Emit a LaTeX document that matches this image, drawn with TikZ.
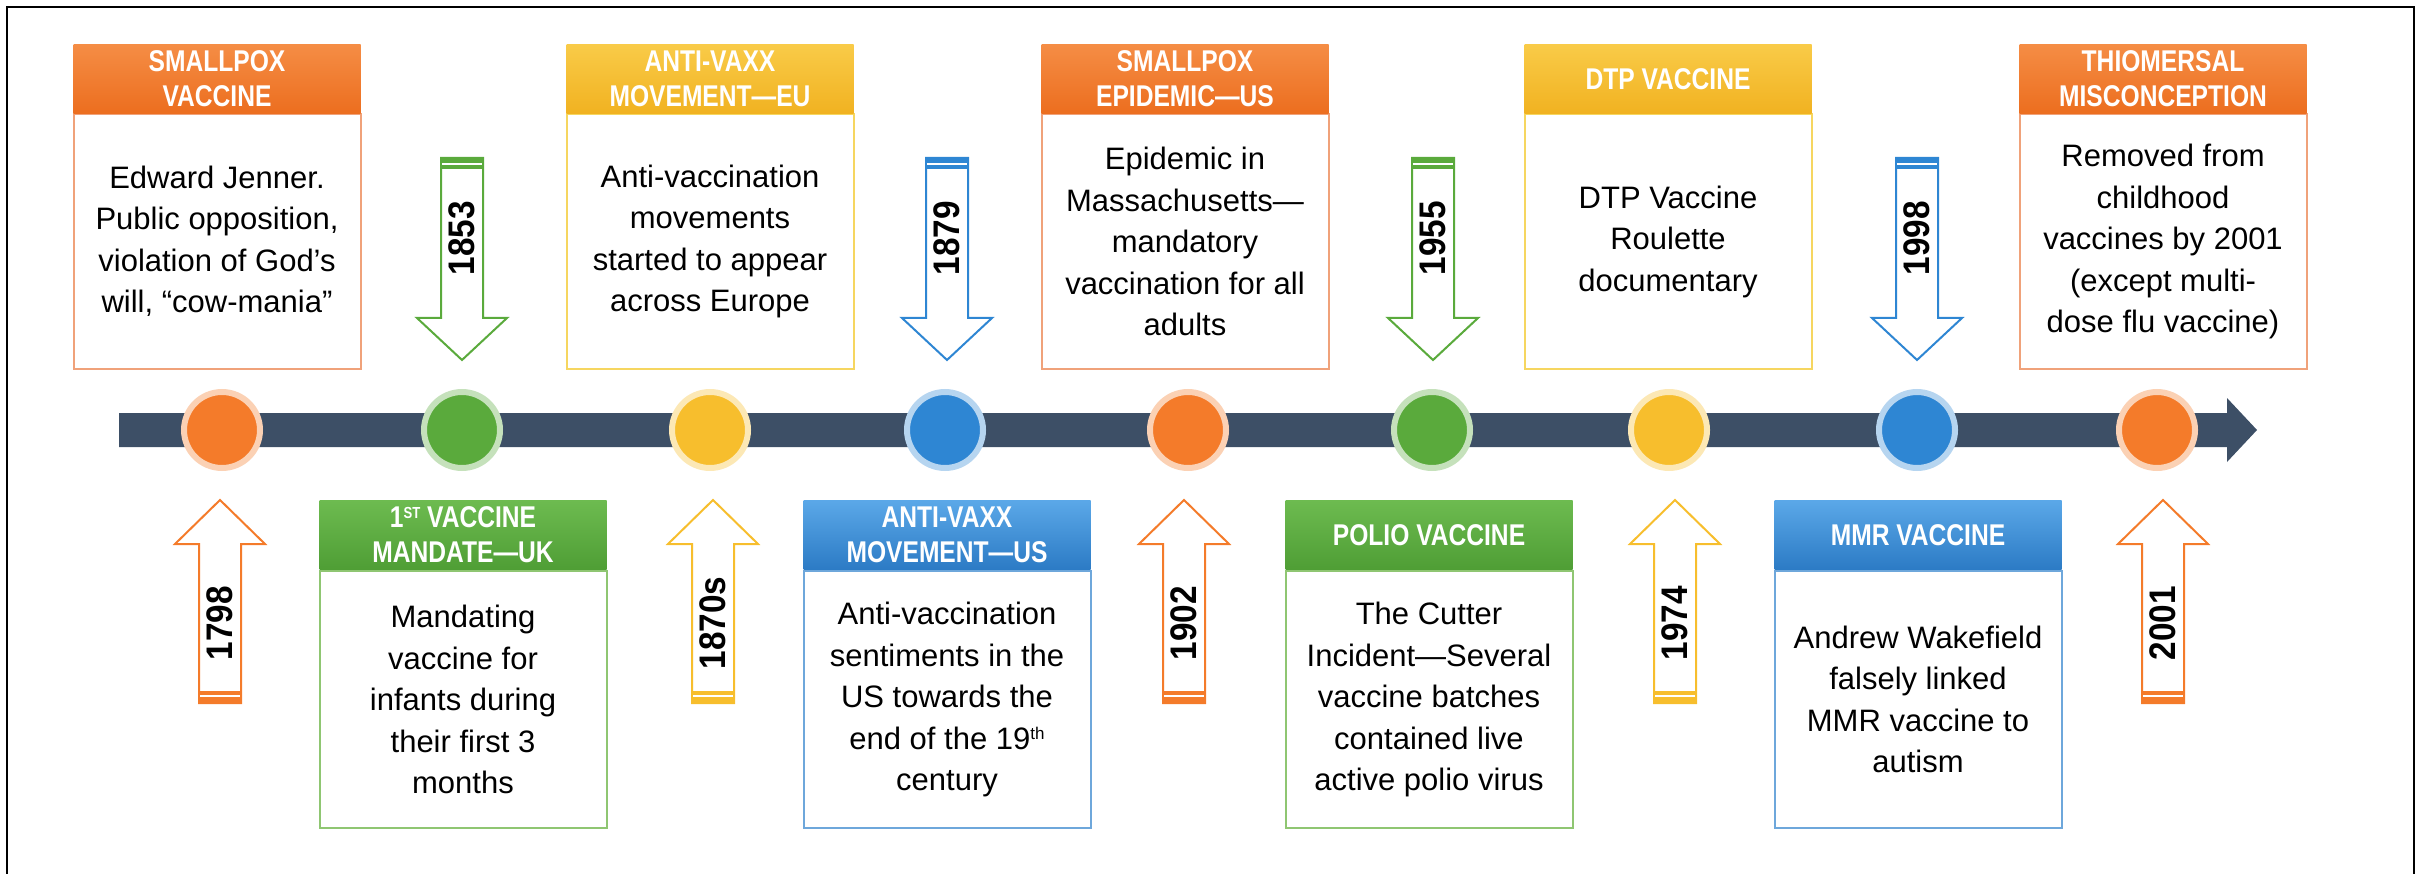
\documentclass[tikz,border=0pt]{standalone}
\usepackage{fontspec}
\setmainfont{Liberation Sans}
\newfontfamily\bodyf{Liberation Sans}
\newfontfamily\hdrf[FakeStretch=0.82]{Liberation Sans}
\newfontfamily\yrf[FakeStretch=0.9]{Liberation Sans}
\definecolor{barc}{HTML}{3D4F66}
\definecolor{oraC}{HTML}{F47B2A}
\definecolor{oraT}{HTML}{F58D45}
\definecolor{oraB}{HTML}{EC6E1F}
\definecolor{oraL}{HTML}{F0A27A}
\definecolor{grnC}{HTML}{5AAA3C}
\definecolor{grnT}{HTML}{6DBB50}
\definecolor{grnB}{HTML}{4F9E35}
\definecolor{grnL}{HTML}{8FC672}
\definecolor{yelC}{HTML}{F7BE2D}
\definecolor{yelT}{HTML}{F9CB48}
\definecolor{yelB}{HTML}{F1B221}
\definecolor{yelL}{HTML}{F6D660}
\definecolor{bluC}{HTML}{2E86D3}
\definecolor{bluT}{HTML}{5BA8E8}
\definecolor{bluB}{HTML}{2C7BC5}
\definecolor{bluL}{HTML}{6EA7DB}
\newcommand\DnArr[4]{%
  \draw[arr, draw=#3] (#2-21,158) -- (#2+21,158) -- (#2+21,318) -- (#2+45,318) -- (#2,360) -- (#2-45,318) -- (#2-21,318) -- cycle;
  \fill[#3] (#2-22,157) rectangle (#2+22,169);
  \draw[white, line width=1.2pt] (#2-20,164) -- (#2+20,164);
  \node[yr] (#1) at (#2,238) {#4};
}
\newcommand\UpArr[4]{%
  \draw[arr, draw=#3] (#2-21,703) -- (#2+21,703) -- (#2+21,544) -- (#2+45,544) -- (#2,500) -- (#2-45,544) -- (#2-21,544) -- cycle;
  \fill[#3] (#2-22,691) rectangle (#2+22,704);
  \draw[white, line width=1.2pt] (#2-20,696) -- (#2+20,696);
  \node[yr] (#1) at (#2,623) {#4};
}
\begin{document}
\begin{tikzpicture}[x=1pt,y=-1pt,
  hdr/.style={anchor=north, minimum width=287pt, minimum height=69pt, inner sep=0pt, align=center, text=white, font=\hdrf\bfseries\fontsize{30}{35}\selectfont},
  tbody/.style={anchor=north, fill=white, line width=2pt, minimum width=287pt, minimum height=255pt, inner sep=0pt, align=center, font=\bodyf\fontsize{31}{41.5}\selectfont},
  bbody/.style={tbody, minimum height=257pt},
  dot/.style={circle, minimum size=76pt, inner sep=0pt, line width=6pt},
  yr/.style={rotate=90, font=\yrf\bfseries\fontsize{37}{37}\selectfont, inner sep=0pt},
  arr/.style={line width=2pt, fill=white, line join=miter}
]
\useasboundingbox (0,0) rectangle (2433,874);
% frame
\draw[line width=2pt] (7,874) -- (7,7) -- (2414,7) -- (2414,874);
% timeline bar
\fill[barc] (119,413) -- (2227,413) -- (2227,398) -- (2257,430) -- (2227,462) -- (2227,447) -- (119,447) -- cycle;
% circles
\node[dot, fill=oraC, draw=oraC!35!white] (c1) at (222,430) {};
\node[dot, fill=grnC, draw=grnC!35!white] (c2) at (462,430) {};
\node[dot, fill=yelC, draw=yelC!35!white] (c3) at (710,430) {};
\node[dot, fill=bluC, draw=bluC!35!white] (c4) at (945,430) {};
\node[dot, fill=oraC, draw=oraC!35!white] (c5) at (1188,430) {};
\node[dot, fill=grnC, draw=grnC!35!white] (c6) at (1432,430) {};
\node[dot, fill=yelC, draw=yelC!35!white] (c7) at (1669,430) {};
\node[dot, fill=bluC, draw=bluC!35!white] (c8) at (1917,430) {};
\node[dot, fill=oraC, draw=oraC!35!white] (c9) at (2157,430) {};
% year arrows
\UpArr{y1}{220}{oraC}{1798}
\DnArr{y2}{462}{grnC}{1853}
\UpArr{y3}{713}{yelC}{1870s}
\DnArr{y4}{947}{bluC}{1879}
\UpArr{y5}{1184}{oraC}{1902}
\DnArr{y6}{1433}{grnC}{1955}
\UpArr{y7}{1675}{yelC}{1974}
\DnArr{y8}{1917}{bluC}{1998}
\UpArr{y9}{2163}{oraC}{2001}
% top boxes
\node[tbody, draw=oraL] (b1) at (217,113) {Edward Jenner.\\Public opposition,\\violation of God’s\\will, “cow-mania”};
\node[hdr, top color=oraT, bottom color=oraB] (h1) at (217,44) {SMALLPOX\\VACCINE};
\node[tbody, draw=yelL] (b3) at (710,113) {Anti-vaccination\\movements\\started to appear\\across Europe};
\node[hdr, top color=yelT, bottom color=yelB] (h3) at (710,44) {ANTI-VAXX\\MOVEMENT—EU};
\node[tbody, draw=oraL] (b5) at (1185,113) {Epidemic in\\Massachusetts—\\mandatory\\vaccination for all\\adults};
\node[hdr, top color=oraT, bottom color=oraB] (h5) at (1185,44) {SMALLPOX\\EPIDEMIC—US};
\node[tbody, draw=yelL] (b7) at (1668,113) {DTP Vaccine\\Roulette\\documentary};
\node[hdr, top color=yelT, bottom color=yelB] (h7) at (1668,44) {DTP VACCINE};
\node[tbody, draw=oraL] (b9) at (2163,113) {Removed from\\childhood\\vaccines by 2001\\(except multi-\\dose flu vaccine)};
\node[hdr, top color=oraT, bottom color=oraB] (h9) at (2163,44) {THIOMERSAL\\MISCONCEPTION};
% bottom boxes
\node[bbody, draw=grnL] (b2) at (463,570) {Mandating\\vaccine for\\infants during\\their first 3\\months};
\node[hdr, top color=grnT, bottom color=grnB] (h2) at (463,500) {1\raisebox{9pt}{\fontsize{16}{16}\selectfont ST} VACCINE\\MANDATE—UK};
\node[bbody, draw=bluL] (b4) at (947,570) {Anti-vaccination\\sentiments in the\\US towards the\\end of the 19\raisebox{10pt}{\fontsize{17}{17}\selectfont th}\\century};
\node[hdr, top color=bluT, bottom color=bluB] (h4) at (947,500) {ANTI-VAXX\\MOVEMENT—US};
\node[bbody, draw=grnL] (b6) at (1429,570) {The Cutter\\Incident—Several\\vaccine batches\\contained live\\active polio virus};
\node[hdr, top color=grnT, bottom color=grnB] (h6) at (1429,500) {POLIO VACCINE};
\node[bbody, draw=bluL] (b8) at (1918,570) {Andrew Wakefield\\falsely linked\\MMR vaccine to\\autism};
\node[hdr, top color=bluT, bottom color=bluB] (h8) at (1918,500) {MMR VACCINE};
\end{tikzpicture}
\end{document}
